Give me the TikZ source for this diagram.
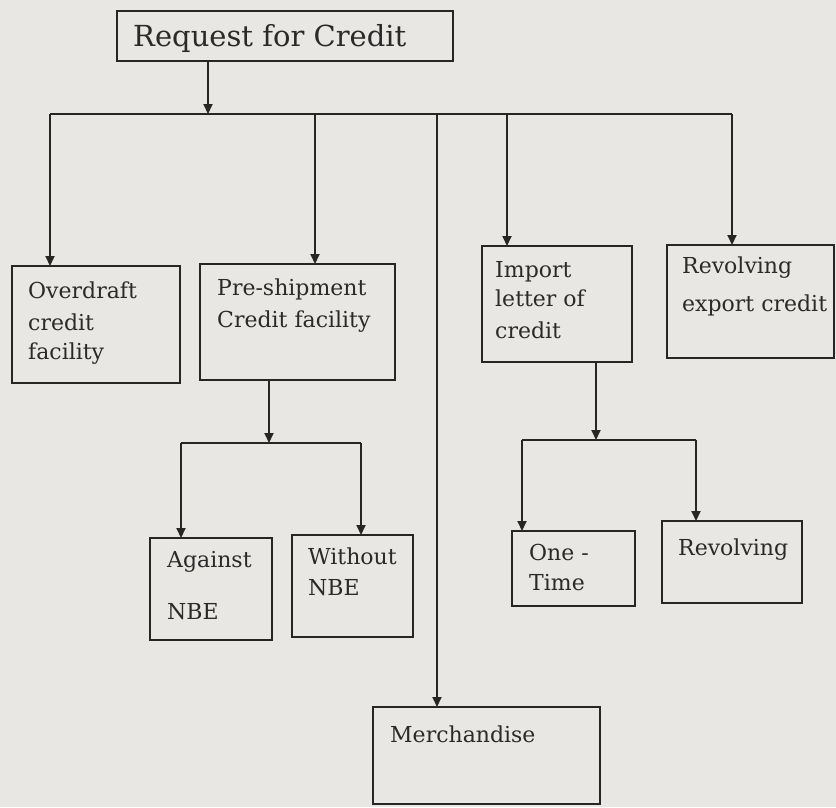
\documentclass[tikz,border=0pt]{standalone}
\usepackage{fontspec}
\setmainfont{DejaVu Serif}
\usetikzlibrary{arrows.meta}
\definecolor{paper}{HTML}{E9E7E4}
\definecolor{ink}{HTML}{262626}
\definecolor{txt}{HTML}{2A2A2A}
\begin{document}
\begin{tikzpicture}[x=1pt,y=-1pt,
  box/.style={draw=ink, line width=2pt, inner sep=0pt, outer sep=0pt, rectangle},
  arr/.style={draw=ink, line width=1.9pt, -{Triangle[length=10pt,width=9pt]}},
  ln/.style={draw=ink, line width=1.9pt},
  lbl/.style={anchor=base west, inner sep=0pt, text=txt, font=\fontsize{22}{26}\selectfont},
  title/.style={anchor=base west, inner sep=0pt, text=txt, font=\fontsize{29}{34}\selectfont}]
% paper
\fill[paper] (0,0) rectangle (836,807);
\useasboundingbox (0,0) rectangle (836,807);

% boxes
\node[box, minimum width=336pt, minimum height=50pt] (top) at (285,36) {};
\node[box, minimum width=168pt, minimum height=117pt] (od) at (96,324.5) {};
\node[box, minimum width=195pt, minimum height=116pt] (ps) at (297.5,322) {};
\node[box, minimum width=150pt, minimum height=116pt] (il) at (557,304) {};
\node[box, minimum width=167pt, minimum height=113pt] (rx) at (750.5,301.5) {};
\node[box, minimum width=122pt, minimum height=102pt] (ag) at (211,589) {};
\node[box, minimum width=121pt, minimum height=102pt] (wo) at (352.5,586) {};
\node[box, minimum width=123pt, minimum height=75pt] (ot) at (573.5,568.5) {};
\node[box, minimum width=140pt, minimum height=82pt] (rv) at (732,562) {};
\node[box, minimum width=227pt, minimum height=97pt] (me) at (486.5,755.5) {};

% labels
\node[title] (topT) at (133,46) {Request for Credit};
\node[lbl] (od1) at (28,298) {Overdraft};
\node[lbl] (od2) at (28,330) {credit};
\node[lbl] (od3) at (28,359) {facility};
\node[lbl] (ps1) at (217,295) {Pre-shipment};
\node[lbl] (ps2) at (217,327) {Credit facility};
\node[lbl] (il1) at (495,277) {Import};
\node[lbl] (il2) at (495,306) {letter of};
\node[lbl] (il3) at (495,338) {credit};
\node[lbl] (rx1) at (682,273) {Revolving};
\node[lbl] (rx2) at (682,311) {export credit};
\node[lbl] (ag1) at (167,567) {Against};
\node[lbl] (ag2) at (167,619) {NBE};
\node[lbl] (wo1) at (308,564) {Without};
\node[lbl] (wo2) at (308,595) {NBE};
\node[lbl] (ot1) at (529,560) {One -};
\node[lbl] (ot2) at (529,590) {Time};
\node[lbl] (rv1) at (678,555) {Revolving};
\node[lbl] (me1) at (390,742) {Merchandise};

% main distribution bus
\coordinate (busL) at (50,114);
\coordinate (busR) at (732,114);
\coordinate (t1) at (208,114);
\coordinate (b2) at (315,114);
\coordinate (b3) at (437,114);
\coordinate (b4) at (507,114);
\draw[ln] (busL) -- (busR);
\draw[arr] (top.south -| t1) -- (t1);
\draw[arr] (busL) -- (busL |- od.north);
\draw[arr] (b2) -- (b2 |- ps.north);
\draw[arr] (b3) -- (b3 |- me.north);
\draw[arr] (b4) -- (b4 |- il.north);
\draw[arr] (busR) -- (busR |- rx.north);

% pre-shipment branch
\coordinate (s1) at (269,443);
\coordinate (s1L) at (181,443);
\coordinate (s1R) at (361,443);
\draw[ln] (s1L) -- (s1R);
\draw[arr] (s1 |- ps.south) -- (s1);
\draw[arr] (s1L) -- (s1L |- ag.north);
\draw[arr] (s1R) -- (s1R |- wo.north);

% import letter of credit branch
\coordinate (s2) at (596,440);
\coordinate (s2L) at (522,440);
\coordinate (s2R) at (696,440);
\draw[ln] (s2L) -- (s2R);
\draw[arr] (s2 |- il.south) -- (s2);
\draw[arr] (s2L) -- (s2L |- ot.north);
\draw[arr] (s2R) -- (s2R |- rv.north);
\end{tikzpicture}
\end{document}
